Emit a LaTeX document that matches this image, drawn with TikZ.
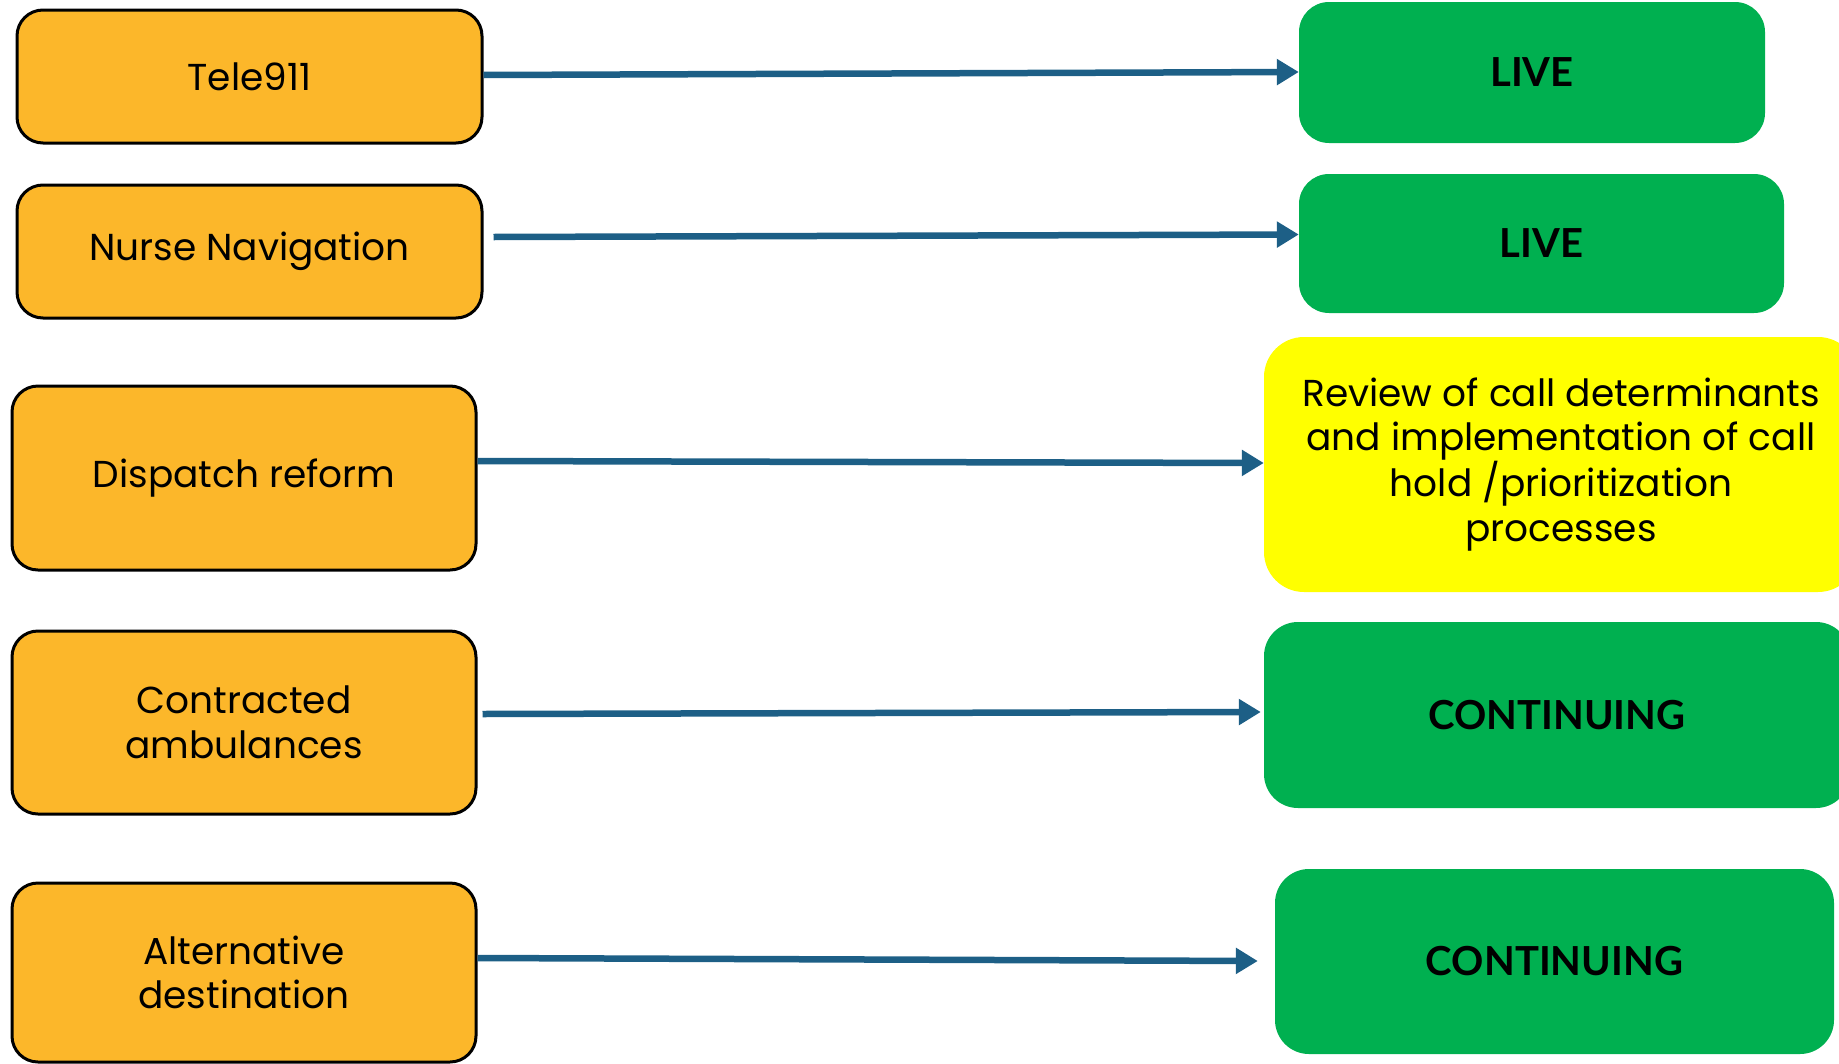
\documentclass[tikz,border=0pt]{standalone}
\usepackage{fontspec}
\setmainfont{Poppins}
\newfontfamily\boldfam{Lato}
\usetikzlibrary{arrows.meta}
\definecolor{obox}{HTML}{FCB72A}
\definecolor{gbox}{HTML}{00B050}
\definecolor{ybox}{HTML}{FFFF00}
\definecolor{arr}{HTML}{1D5F86}
\tikzset{
  orangebox/.style={draw=black, line width=3pt, fill=obox, rounded corners=26pt,
    align=center, inner sep=0pt, font=\fontsize{37.5}{44.5}\selectfont},
  greenbox/.style={fill=gbox, rounded corners=30pt, align=center, inner sep=0pt,
    font=\boldfam\bfseries\fontsize{40}{44}\selectfont},
  yellowbox/.style={fill=ybox, rounded corners=40pt, align=center, inner sep=0pt,
    font=\fontsize{37.5}{44.6}\selectfont},
  conn/.style={draw=arr, line width=6.5pt, -{Triangle[length=22pt,width=25pt]}}
}
\begin{document}
\begin{tikzpicture}[x=1pt,y=-1pt]
\useasboundingbox (0,0) rectangle (1839,1063);
\clip (0,0) rectangle (1839,1063);
% left boxes
\node[orangebox, minimum width=465pt, minimum height=133pt] (o1) at (249.5,76.5) {Tele911};
\node[orangebox, minimum width=465pt, minimum height=133pt] (o2) at (249.5,251.5) {Nurse Navigation};
\node[orangebox, minimum width=464pt, minimum height=184pt] (o3) at (244,478) {Dispatch reform};
\node[orangebox, minimum width=464pt, minimum height=183pt] (o4) at (244,722.5) {Contracted\\ambulances};
\node[orangebox, minimum width=464pt, minimum height=179pt] (o5) at (244,972.5) {Alternative\\destination};
% right boxes
\node[greenbox, minimum width=466pt, minimum height=141pt] (g1) at (1532,72.5) {LIVE};
\node[greenbox, minimum width=485pt, minimum height=139pt] (g2) at (1541.5,243.5) {LIVE};
\node[yellowbox, minimum width=594pt, minimum height=255pt] (y3) at (1561,464.5) {Review of call determinants\\and implementation of call\\hold /prioritization\\processes};
\node[greenbox, minimum width=586pt, minimum height=186pt, rounded corners=34pt] (g3) at (1557,715) {CONTINUING};
\node[greenbox, minimum width=559pt, minimum height=185pt, rounded corners=34pt] (g4) at (1554.5,961.5) {CONTINUING};
% connectors
\draw[conn] ([yshift=1.5pt]o1.east) -- ([yshift=0.5pt]g1.west);
\draw[conn] ([xshift=10pt,yshift=14.5pt]o2.east) -- ([yshift=9pt]g2.west);
\draw[conn] ([yshift=17pt]o3.east) -- ([yshift=1.5pt]y3.west);
\draw[conn] ([xshift=5pt,yshift=8.5pt]o4.east) -- ([xshift=-14pt,yshift=3pt]g4.west |- g3.west);
\draw[conn] ([yshift=14.5pt]o5.east) -- ([xshift=-17pt,yshift=0.5pt]g4.west);
\end{tikzpicture}
\end{document}
